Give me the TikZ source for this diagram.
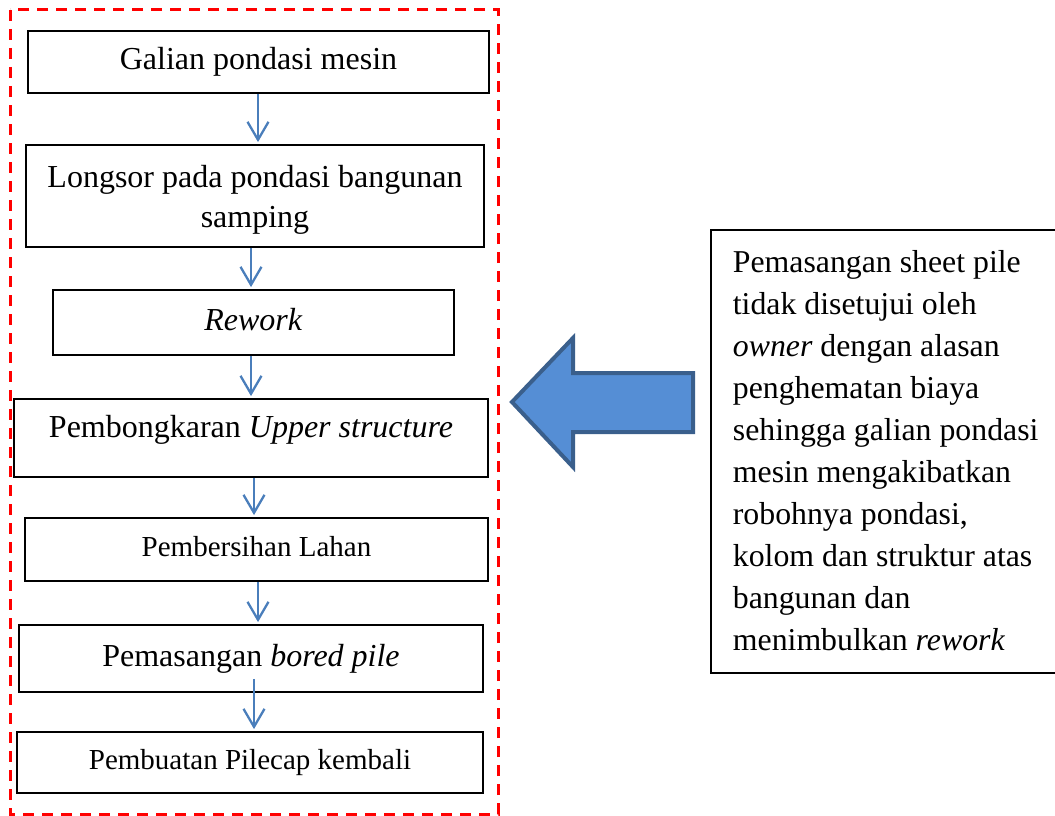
\documentclass[tikz,border=0pt]{standalone}
\usepackage{fontspec}
\setmainfont{Liberation Serif}
\usetikzlibrary{arrows.meta,calc}
\definecolor{flowblue}{HTML}{4A7EBB}
\definecolor{bigfill}{HTML}{558ED5}
\definecolor{bigedge}{HTML}{3A5F8C}
\begin{document}
\begin{tikzpicture}[x=1pt,y=-1pt,
  stepbox/.style={draw=black, line width=1.8pt, inner sep=0pt, align=center,
    text height=22.4pt, text depth=7pt, font=\fontsize{32}{40}\selectfont},
  smallbox/.style={stepbox, text height=20.3pt, text depth=6.4pt,
    font=\fontsize{29}{36}\selectfont},
  flow/.style={draw=flowblue, line width=2.3pt, shorten >=2pt,
    -{Straight Barb[length=18pt,width=21pt]}},
  bigarrow/.style={fill=bigfill, draw=bigedge, line width=4pt, line join=miter},
  frame/.style={draw=red, line width=3pt, dash pattern=on 11pt off 8pt}]
\useasboundingbox (0,0) rectangle (1055,816);
\clip (0,0) rectangle (1055,816);

% dashed frame around the sequence of events
\draw[frame] (10,10) rectangle (498,814);

% sequence of events
\node[stepbox, minimum width=461, minimum height=62] (n1) at (258.5,62)
  {Galian pondasi mesin};
\node[stepbox, minimum width=458, minimum height=102, text height=62.4pt, text depth=0.4pt]
  (n2) at (255,196)
  {Longsor pada pondasi bangunan\\samping};
\node[stepbox, minimum width=401, minimum height=65] (n3) at (253.5,322.5)
  {\textit{Rework}};
\node[stepbox, minimum width=474, minimum height=78, text depth=24.4pt] (n4) at (251,438)
  {Pembongkaran \textit{Upper structure}};
\node[smallbox, minimum width=463, minimum height=63] (n5) at (256.5,549.5)
  {Pembersihan Lahan};
\node[stepbox, minimum width=464, minimum height=67] (n6) at (251,658.5)
  {Pemasangan \textit{bored pile}};
\node[smallbox, minimum width=466, minimum height=61] (n7) at (250,762.5)
  {Pembuatan Pilecap kembali};

% connectors between the steps
\draw[flow] ($(n1.south)+(-0.5,0)$) coordinate (t1) -- (t1 |- n2.north);
\draw[flow] ($(n2.south)+(-4,0)$) coordinate (t2) -- (t2 |- n3.north);
\draw[flow] ($(n3.south)+(-2.5,0)$) coordinate (t3) -- (t3 |- n4.north);
\draw[flow] ($(n4.south)+(3,0)$) coordinate (t4) -- (t4 |- n5.north);
\draw[flow] ($(n5.south)+(1.5,0)$) coordinate (t5) -- (t5 |- n6.north);
\draw[flow] ($(n6.south)+(3,-14)$) coordinate (t6) -- (t6 |- n7.north);

% explanation box
\node[draw=black, line width=1.8pt, anchor=north west, inner xsep=22pt, inner ysep=0pt,
  text width=316pt, minimum height=443, align=flush left,
  text height=22.4pt, text depth=381pt, font=\fontsize{31.8}{42}\selectfont]
  (note) at (710,229)
  {Pemasangan sheet pile\\
   tidak disetujui oleh\\
   \textit{owner} dengan alasan\\
   penghematan biaya\\
   sehingga galian pondasi\\
   mesin mengakibatkan\\
   robohnya pondasi,\\
   kolom dan struktur atas\\
   bangunan dan\\
   menimbulkan \textit{rework}};

% block arrow pointing from the explanation to the sequence
\draw[bigarrow] (512,402) -- (573,338) -- (573,373) -- (693,373) -- (693,432)
  -- (573,432) -- (573,467) -- cycle;
\end{tikzpicture}
\end{document}
